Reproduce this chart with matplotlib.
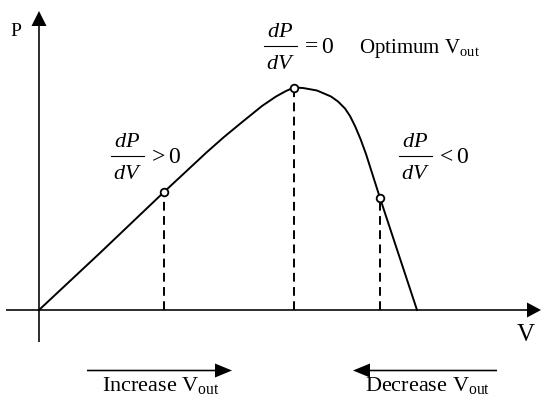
import matplotlib
matplotlib.use('Agg')
import matplotlib.pyplot as plt

plt.rcParams['font.family'] = ['Liberation Serif', 'DejaVu Serif']
plt.rcParams['mathtext.fontset'] = 'custom'
plt.rcParams['mathtext.rm'] = 'Liberation Serif'
plt.rcParams['mathtext.it'] = 'Liberation Serif:italic'

# P-V curve of the source (voltage, power), origin at the axes crossing
v_curve = [0, 62, 125, 168, 185, 202, 223, 237, 247, 255, 264, 278, 292,
           299, 306, 311, 316, 321.5, 327, 341, 378]
p_curve = [0, 58, 118, 158, 173, 187, 204, 213.5, 219, 222.5, 222, 219.5, 213.5,
           208.5, 201.5, 194, 184, 171, 156, 112, 0]

# operating points: left of the peak, at the peak, right of the peak
v_pts = [125, 255, 341]
p_pts = [118, 222.5, 112]

relations = ['> 0', '= 0', '< 0']

fig = plt.figure(figsize=(5.41, 3.97), dpi=100)
ax = fig.add_axes([0, 0, 1, 1])
ax.set_xlim(-39, 502)
ax.set_ylim(-87, 310)
ax.axis('off')

# axes with arrow heads
ax.arrow(0, -32, 0, 331, width=1.6, head_width=15, head_length=15,
         length_includes_head=True, color='black', lw=0)
ax.arrow(-33, 0, 535, 0, width=1.6, head_width=15, head_length=14,
         length_includes_head=True, color='black', lw=0)
ax.text(-23, 278, 'P', fontsize=14, ha='center', va='center')
ax.text(487, -25, 'V', fontsize=18, ha='center', va='center')

# curve
ax.plot(v_curve, p_curve, color='black', lw=1.4, solid_joinstyle='round', zorder=3)

# dashed drop lines and open markers
for v, p in zip(v_pts, p_pts):
    ax.plot([v, v], [0, p], color='black', lw=1.4, linestyle=(0, (4.5, 2.8)), zorder=2)
ax.plot(v_pts, p_pts, 'o', ms=5.5, mfc='white', mec='black', mew=1.3, zorder=4)


def slope_label(x0, ybar, rel, fs=16):
    # dP/dV written as a stacked fraction followed by the relation
    w = 33
    ax.plot([x0, x0 + w], [ybar, ybar], color='black', lw=0.8)
    ax.text(x0 + w / 2, ybar + 9, r'$dP$', fontsize=fs, ha='center', va='baseline')
    ax.text(x0 + w / 2, ybar - 23, r'$dV$', fontsize=fs, ha='center', va='baseline')
    ax.text(x0 + w + 4, ybar - 7, '$' + rel + '$', fontsize=fs + 1, ha='left', va='baseline')


slope_label(72, 154, relations[0])
slope_label(225, 264, relations[1])
slope_label(360, 154, relations[2])
ax.text(320, 257, r'Optimum $\mathrm{V_{out}}$', fontsize=15, ha='left', va='baseline')

# direction arrows for the tracker
ax.arrow(48, -60.5, 145, 0, width=1.6, head_width=14, head_length=17,
         length_includes_head=True, color='black', lw=0)
ax.arrow(458, -60.5, -144, 0, width=1.6, head_width=14, head_length=17,
         length_includes_head=True, color='black', lw=0)
ax.text(122, -81, r'Increase $\mathrm{V_{out}}$', fontsize=16, ha='center', va='baseline')
ax.text(389, -81, r'Decrease $\mathrm{V_{out}}$', fontsize=16, ha='center', va='baseline')

fig.savefig('out.png', dpi=100)
